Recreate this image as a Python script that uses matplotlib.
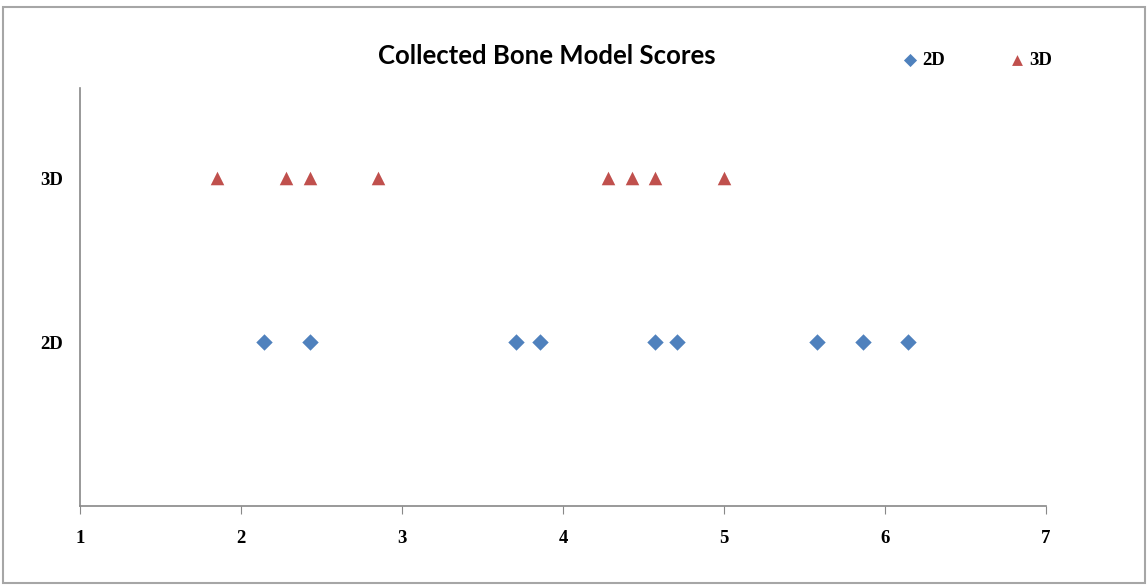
import matplotlib
matplotlib.use("Agg")
import matplotlib.pyplot as plt
from matplotlib.patches import Rectangle

title = "Collected Bone Model Scores"
categories = ["2D", "3D"]
scores_2d = [2.14, 2.43, 3.71, 3.855, 4.57, 4.71, 5.58, 5.86, 6.14]
scores_3d = [1.85, 2.28, 2.43, 2.85, 4.28, 4.43, 4.57, 5.0]
x_ticks = [1, 2, 3, 4, 5, 6, 7]

fig = plt.figure(figsize=(11.48, 5.85), dpi=100)
ax = fig.add_axes([0.0697, 0.135, 0.8415, 0.7146])

serif = ["Liberation Serif", "DejaVu Serif"]
blue = "#4F81BD"
red = "#C0504D"

ax.scatter(scores_2d, [1] * len(scores_2d), marker="D", s=70, color=blue,
           linewidths=0, label="2D", zorder=3)
ax.scatter(scores_3d, [2] * len(scores_3d), marker="^", s=95, color=red,
           linewidths=0, label="3D", zorder=3)

ax.set_xlim(1, 7)
ax.set_ylim(0, 2.55)
ax.set_xticks(x_ticks)
ax.set_xticklabels([str(t) for t in x_ticks], fontfamily=serif,
                   fontweight="bold", fontsize=13.5)
ax.set_yticks([1, 2])
ax.set_yticklabels(categories, fontfamily=serif, fontweight="bold", fontsize=13.5)

for s in ["top", "right"]:
    ax.spines[s].set_visible(False)
for s in ["left", "bottom"]:
    ax.spines[s].set_color("#888888")
    ax.spines[s].set_linewidth(1.2)
ax.tick_params(axis="x", direction="out", length=6, color="#888888", pad=11)
ax.tick_params(axis="y", length=0, pad=12)

fig.text(0.476, 0.905, title, ha="center", va="center", fontsize=18.5,
         fontweight="bold", fontfamily=["Lato", "DejaVu Sans"])

leg = fig.legend(loc="center", bbox_to_anchor=(0.8505, 0.896), ncol=2,
                 frameon=False, handlelength=1.0, handletextpad=0.15,
                 columnspacing=3.3, markerscale=0.8,
                 prop={"family": serif, "weight": "bold", "size": 13.5})

fig.add_artist(Rectangle((0.003, 0.004), 0.994, 0.984, transform=fig.transFigure,
                         fill=False, edgecolor="#A6A6A6", linewidth=1.5))

fig.savefig("out.png", dpi=100)
